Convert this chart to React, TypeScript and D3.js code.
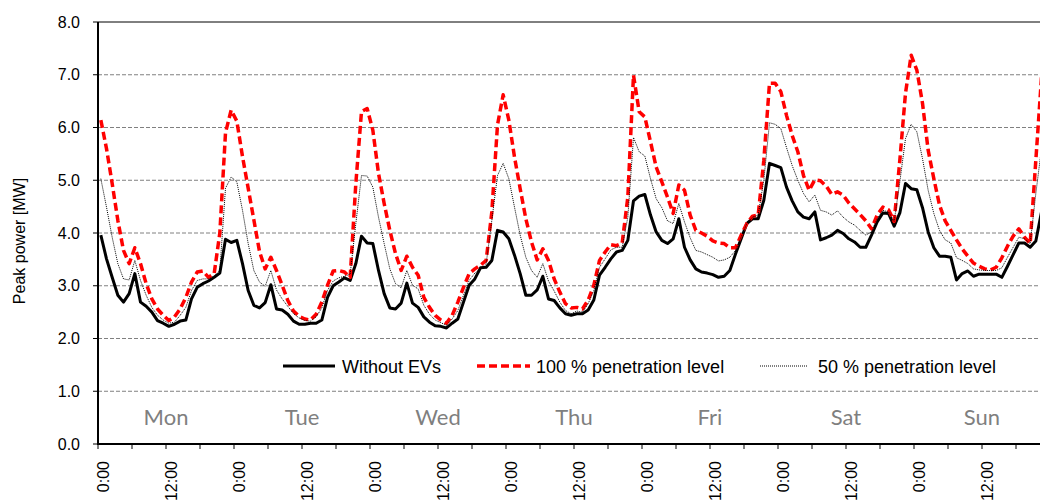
import React, { useRef, useEffect } from 'react'
import * as d3 from 'd3'

// one value per hour, Mon 0:00 .. Sun 23:00
const withoutEVs = [
    3.96, 3.51, 3.16, 2.82, 2.69, 2.85, 3.23, 2.69, 2.61, 2.50, 2.34, 2.29, 2.23, 2.27, 2.33, 2.35, 2.75, 2.97, 3.04, 3.09, 3.16, 3.24, 3.88, 3.82, 3.86, 3.42, 2.91, 2.63,
    2.58, 2.68, 3.02, 2.56, 2.54, 2.46, 2.33, 2.27, 2.27, 2.29, 2.29, 2.35, 2.78, 3.00, 3.07, 3.15, 3.10, 3.42, 3.94, 3.81, 3.80, 3.29, 2.85, 2.58, 2.56, 2.67, 3.05, 2.67,
    2.59, 2.41, 2.31, 2.24, 2.23, 2.20, 2.29, 2.37, 2.69, 3.01, 3.13, 3.34, 3.35, 3.48, 4.05, 4.02, 3.89, 3.58, 3.23, 2.82, 2.82, 2.92, 3.18, 2.75, 2.72, 2.58, 2.47, 2.44,
    2.47, 2.47, 2.54, 2.73, 3.20, 3.35, 3.51, 3.64, 3.67, 3.86, 4.61, 4.70, 4.73, 4.34, 4.02, 3.86, 3.80, 3.89, 4.27, 3.73, 3.49, 3.32, 3.26, 3.24, 3.21, 3.16, 3.18, 3.29,
    3.60, 3.89, 4.18, 4.27, 4.27, 4.62, 5.32, 5.28, 5.24, 4.87, 4.61, 4.40, 4.30, 4.27, 4.40, 3.87, 3.91, 3.96, 4.05, 3.99, 3.89, 3.83, 3.73, 3.73, 3.96, 4.21, 4.38, 4.37,
    4.13, 4.38, 4.94, 4.84, 4.82, 4.48, 4.02, 3.72, 3.56, 3.56, 3.54, 3.11, 3.23, 3.28, 3.18, 3.22, 3.22, 3.22, 3.22, 3.16, 3.37, 3.59, 3.81, 3.81, 3.73, 3.85, 4.40, 4.90
]

const penetration100 = [
    6.14, 5.60, 4.94, 4.24, 3.67, 3.42, 3.72, 3.42, 3.04, 2.75, 2.56, 2.44, 2.34, 2.41, 2.56, 2.78, 3.07, 3.26, 3.28, 3.16, 3.23, 4.00, 5.90, 6.33, 6.12, 5.45, 4.85, 4.25,
    3.65, 3.32, 3.54, 3.29, 3.01, 2.72, 2.52, 2.42, 2.37, 2.35, 2.46, 2.69, 3.01, 3.28, 3.29, 3.26, 3.16, 4.94, 6.30, 6.36, 5.95, 5.13, 4.56, 4.05, 3.61, 3.29, 3.56, 3.35,
    3.20, 2.78, 2.59, 2.44, 2.35, 2.29, 2.44, 2.69, 2.97, 3.23, 3.32, 3.39, 3.48, 4.40, 6.05, 6.62, 6.14, 5.44, 4.84, 4.27, 3.83, 3.49, 3.70, 3.48, 3.13, 2.88, 2.66, 2.58,
    2.59, 2.56, 2.73, 3.01, 3.48, 3.64, 3.78, 3.76, 3.81, 4.68, 6.99, 6.30, 6.20, 5.73, 5.25, 4.97, 4.68, 4.37, 4.91, 4.81, 4.34, 4.05, 4.00, 3.94, 3.85, 3.81, 3.80, 3.72,
    3.72, 3.96, 4.18, 4.32, 4.34, 5.38, 6.84, 6.84, 6.68, 6.23, 5.85, 5.54, 5.09, 4.81, 5.01, 4.99, 4.89, 4.73, 4.78, 4.72, 4.57, 4.46, 4.35, 4.23, 4.08, 4.34, 4.49, 4.44,
    4.22, 5.38, 6.65, 7.37, 7.09, 6.46, 5.57, 5.03, 4.53, 4.23, 4.05, 3.87, 3.70, 3.56, 3.43, 3.37, 3.32, 3.30, 3.35, 3.53, 3.75, 3.94, 4.08, 3.92, 3.80, 5.38, 6.95, 7.20
]

const penetration50 = [
    5.03, 4.49, 3.92, 3.42, 3.13, 3.11, 3.48, 3.10, 2.82, 2.59, 2.44, 2.35, 2.29, 2.31, 2.44, 2.59, 2.91, 3.10, 3.13, 3.13, 3.18, 3.29, 4.85, 5.06, 4.97, 4.43, 3.80, 3.29,
    3.07, 2.99, 3.29, 2.92, 2.75, 2.61, 2.47, 2.39, 2.34, 2.33, 2.41, 2.58, 2.91, 3.09, 3.15, 3.18, 3.22, 4.18, 5.09, 5.08, 4.87, 4.30, 3.80, 3.32, 3.04, 2.96, 3.29, 3.01,
    2.94, 2.63, 2.46, 2.35, 2.30, 2.25, 2.37, 2.53, 2.82, 3.10, 3.24, 3.32, 3.42, 4.24, 5.09, 5.32, 5.03, 4.49, 3.96, 3.54, 3.29, 3.16, 3.42, 3.09, 2.90, 2.69, 2.53, 2.47,
    2.52, 2.50, 2.66, 2.91, 3.35, 3.51, 3.68, 3.73, 3.73, 4.30, 5.81, 5.54, 5.46, 5.03, 4.65, 4.48, 4.23, 4.18, 4.56, 4.21, 3.91, 3.67, 3.64, 3.59, 3.54, 3.47, 3.49, 3.54,
    3.67, 3.92, 4.18, 4.30, 4.34, 5.00, 6.09, 6.06, 5.98, 5.62, 5.28, 5.00, 4.75, 4.59, 4.72, 4.43, 4.40, 4.34, 4.42, 4.30, 4.21, 4.15, 4.05, 3.96, 4.02, 4.27, 4.43, 4.40,
    4.22, 4.97, 5.79, 6.06, 5.92, 5.41, 4.81, 4.37, 4.05, 3.87, 3.81, 3.53, 3.48, 3.42, 3.32, 3.30, 3.29, 3.29, 3.29, 3.34, 3.54, 3.73, 3.92, 3.89, 3.80, 4.75, 5.60, 6.00
]

const days = ['Mon', 'Tue', 'Wed', 'Thu', 'Fri', 'Sat', 'Sun']
const hourLabels = ['0:00', '12:00']
const yTicks = [0, 1, 2, 3, 4, 5, 6, 7, 8]
const seriesNames = ['Without EVs', '100 % penetration level', '50 % penetration level']

const App = () => {
    const element = useRef(null)

    useEffect(() => {
        const width = 1040
        const height = 500
        const left = 98
        const top = 22
        const bottom = 444
        const hours = withoutEVs.length

        const svg = d3.select(element.current)
            .append('svg')
            .attr('width', width)
            .attr('height', height)
            .style('display', 'block')
            .style('font-family', '"Liberation Sans", Arial, sans-serif')

        // the plot runs a bit past the right edge of the picture (cropped)
        const x = d3.scaleLinear().domain([0, hours]).range([left, 1050])
        const y = d3.scaleLinear().domain([0, 8]).range([bottom, top])

        // gridlines
        svg.append('g')
            .selectAll('line')
            .data(yTicks.filter(d => d > 0 && d < 8))
            .enter()
            .append('line')
            .attr('x1', left).attr('x2', width)
            .attr('y1', d => y(d)).attr('y2', d => y(d))
            .attr('stroke', '#808080')
            .attr('stroke-width', 1)
            .attr('stroke-dasharray', '4,2')

        svg.append('line')
            .attr('x1', left).attr('x2', width)
            .attr('y1', y(8)).attr('y2', y(8))
            .attr('stroke', '#000').attr('stroke-width', 1)

        // day names
        svg.append('g')
            .selectAll('text')
            .data(days)
            .enter()
            .append('text')
            .attr('x', (d, i) => x(i * 24 + 12))
            .attr('y', 425)
            .attr('text-anchor', 'middle')
            .style('font-family', 'Lato, "Open Sans", sans-serif')
            .style('font-size', '22px')
            .attr('fill', '#7f7f7f')
            .text(d => d)

        // series
        const line = d3.line()
            .x((d, i) => x(i + 0.5))
            .y(d => y(d))

        svg.append('path')
            .datum(withoutEVs)
            .attr('d', line)
            .attr('fill', 'none')
            .attr('stroke', '#000')
            .attr('stroke-width', 3)
            .attr('stroke-linejoin', 'round')

        svg.append('path')
            .datum(penetration100)
            .attr('d', line)
            .attr('fill', 'none')
            .attr('stroke', '#ff0000')
            .attr('stroke-width', 3.5)
            .attr('stroke-linejoin', 'round')
            .attr('stroke-dasharray', '8,4')

        svg.append('path')
            .datum(penetration50)
            .attr('d', line)
            .attr('fill', 'none')
            .attr('stroke', '#000')
            .attr('stroke-width', 1)
            .attr('stroke-dasharray', '1,1')

        // axes
        svg.append('line')
            .attr('x1', left).attr('x2', left)
            .attr('y1', top).attr('y2', bottom + 1)
            .attr('stroke', '#000').attr('stroke-width', 2)
        svg.append('line')
            .attr('x1', left - 1).attr('x2', width)
            .attr('y1', bottom).attr('y2', bottom)
            .attr('stroke', '#000').attr('stroke-width', 2)

        const yAxis = svg.append('g')
        yAxis.selectAll('line')
            .data(yTicks)
            .enter()
            .append('line')
            .attr('x1', left - 5).attr('x2', left)
            .attr('y1', d => y(d)).attr('y2', d => y(d))
            .attr('stroke', '#000').attr('stroke-width', 1)
        yAxis.selectAll('text')
            .data(yTicks)
            .enter()
            .append('text')
            .attr('x', 80)
            .attr('y', d => y(d))
            .attr('dy', '0.35em')
            .attr('text-anchor', 'end')
            .style('font-size', '16px')
            .text(d => d3.format('.1f')(d))

        const xAxis = svg.append('g')
        xAxis.selectAll('line')
            .data(d3.range(0, hours + 1, 6))
            .enter()
            .append('line')
            .attr('x1', d => x(d)).attr('x2', d => x(d))
            .attr('y1', bottom).attr('y2', bottom + 5)
            .attr('stroke', '#000').attr('stroke-width', 1)
        xAxis.selectAll('text')
            .data(d3.range(0, hours, 12))
            .enter()
            .append('text')
            .attr('transform', d => `translate(${x(d) + 5},461) rotate(-90)`)
            .attr('text-anchor', 'end')
            .attr('dominant-baseline', 'central')
            .style('font-size', '16px')
            .text(d => hourLabels[(d / 12) % 2])

        svg.append('text')
            .attr('transform', 'translate(19,241) rotate(-90)')
            .attr('text-anchor', 'middle')
            .attr('dominant-baseline', 'central')
            .style('font-size', '16px')
            .text('Peak power [MW]')

        // legend
        const legendY = 366
        const legend = [
            {x1: 283, x2: 335, tx: 342, stroke: '#000', w: 3, dash: null},
            {x1: 477, x2: 530, tx: 536, stroke: '#ff0000', w: 3.5, dash: '8,4'},
            {x1: 760, x2: 808, tx: 818, stroke: '#000', w: 1, dash: '1,1'},
        ]
        const lg = svg.append('g')
        legend.forEach((l, i) => {
            lg.append('line')
                .attr('x1', l.x1).attr('x2', l.x2)
                .attr('y1', legendY).attr('y2', legendY)
                .attr('stroke', l.stroke)
                .attr('stroke-width', l.w)
                .attr('stroke-dasharray', l.dash)
            lg.append('text')
                .attr('x', l.tx)
                .attr('y', legendY + 1)
                .attr('dominant-baseline', 'central')
                .style('font-size', '18px')
                .text(seriesNames[i])
        })

        return () => {
            svg.remove()
        }
    }, [])

    return (
        <div ref={element} style={{position: 'absolute', left: 0, top: 0}}></div>
    )
}

export default App
